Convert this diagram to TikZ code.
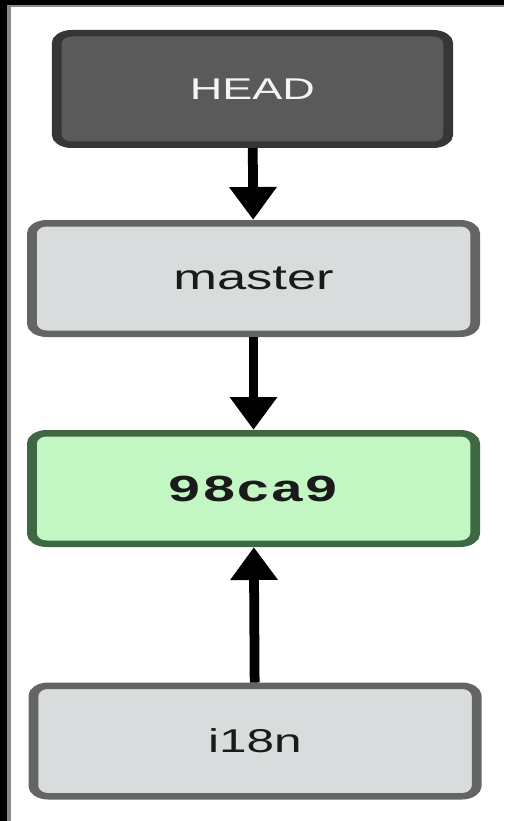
\documentclass[tikz,border=0pt]{standalone}
\usepackage{fontspec}
\usetikzlibrary{arrows.meta}

\newfontfamily\labelsans{Liberation Sans}
\newfontfamily\labelmono{Liberation Mono}

\definecolor{framegray}{HTML}{8A8A8A}
\definecolor{headfill}{HTML}{5A5A5A}
\definecolor{headline}{HTML}{363636}
\definecolor{headtext}{HTML}{F4F4F4}
\definecolor{branchfill}{HTML}{D9DCDC}
\definecolor{branchline}{HTML}{646464}
\definecolor{commitfill}{HTML}{C2F6C2}
\definecolor{commitline}{HTML}{3E6843}
\definecolor{labeltext}{HTML}{1A1A1A}

\begin{document}
\begin{tikzpicture}[x=1pt,y=-1pt,
  refbox/.style={draw,rounded corners=10pt,line width=6.5pt,inner sep=0pt},
  headbox/.style={refbox,fill=headfill,draw=headline,text=headtext,
    minimum width=261pt,minimum height=111.5pt},
  branchbox/.style={refbox,fill=branchfill,draw=branchline,text=labeltext,
    minimum width=295.5pt,minimum height=110.5pt},
  commitbox/.style={refbox,fill=commitfill,draw=commitline,text=labeltext,
    minimum width=295.5pt,minimum height=110.5pt},
  pointer/.style={line width=6.5pt,-{Triangle[width=30pt,length=33pt]}}]

\fill[black] (0,0) rectangle (504,821) ;
\fill[framegray] (7,5) rectangle (504,821) ;
\fill[white] (11,7.5) rectangle (504,821) ;
\useasboundingbox (0,0) rectangle (504,821) ;

\begin{scope}[transform canvas={xscale=1.5}]

\node[headbox,font={\labelsans\fontsize{30pt}{30pt}\selectfont}] (head) at (168.3,89) {HEAD} ;
\node[branchbox,font={\labelsans\fontsize{35pt}{35pt}\selectfont}] (master) at (169,278.5) {master} ;
\node[commitbox,font={\labelmono\bfseries\fontsize{38pt}{38pt}\selectfont}] (c98ca9) at (169,488.5) {98ca9} ;
\node[branchbox,font={\labelsans\fontsize{33pt}{33pt}\selectfont}] (i18n) at (170,741) {i18n} ;

\draw[pointer] (head) -- (master) ;
\draw[pointer] (master) -- (c98ca9) ;
\draw[pointer] (i18n) -- (c98ca9) ;

\end{scope}

\end{tikzpicture}
\end{document}
